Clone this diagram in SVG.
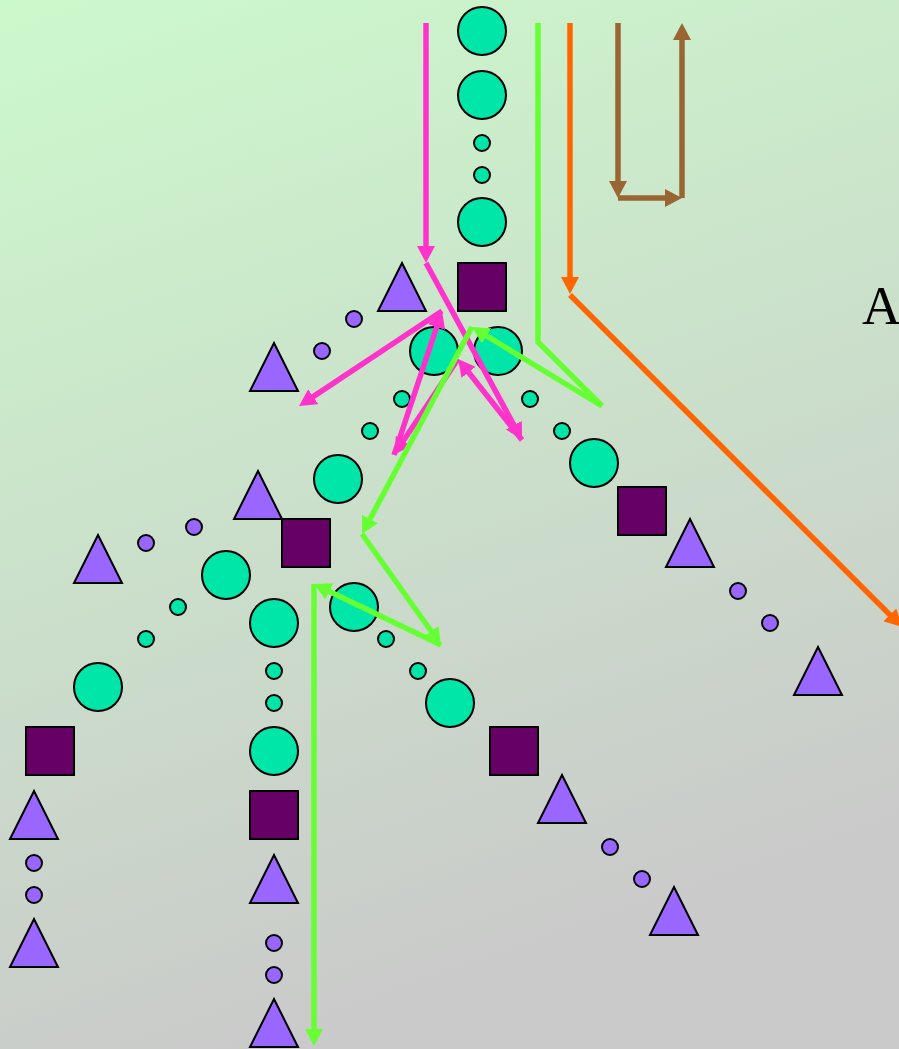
<svg xmlns="http://www.w3.org/2000/svg" width="899" height="1049" viewBox="0 0 899 1049">
<defs>
<linearGradient id="bg" x1="0" y1="0" x2="0.3" y2="1">
<stop offset="0" stop-color="#CCF9CC"/>
<stop offset="1" stop-color="#CACACA"/>
</linearGradient>
<marker id="mPink" markerUnits="userSpaceOnUse" viewBox="0 0 17 18" markerWidth="17" markerHeight="18" refX="9" refY="9" orient="auto"><path d="M0,0 L17,9 L0,18 z" fill="#FF33CC"/></marker>
<marker id="mGreen" markerUnits="userSpaceOnUse" viewBox="0 0 17 18" markerWidth="17" markerHeight="18" refX="9" refY="9" orient="auto"><path d="M0,0 L17,9 L0,18 z" fill="#66FF33"/></marker>
<marker id="mOrange" markerUnits="userSpaceOnUse" viewBox="0 0 17 18" markerWidth="17" markerHeight="18" refX="9" refY="9" orient="auto"><path d="M0,0 L17,9 L0,18 z" fill="#FF6600"/></marker>
<marker id="mBrown" markerUnits="userSpaceOnUse" viewBox="0 0 17 18" markerWidth="17" markerHeight="18" refX="9" refY="9" orient="auto"><path d="M0,0 L17,9 L0,18 z" fill="#996633"/></marker>
</defs>
<style>
.big{fill:#00E5A8;stroke:#000;stroke-width:2}
.sm{fill:#00E5A8;stroke:#000;stroke-width:2}
.pu{fill:#9966FF;stroke:#000;stroke-width:2}
.sq{fill:#660066;stroke:#000;stroke-width:2}
.tri{fill:#9966FF;stroke:#000;stroke-width:2}
.c{fill:none;stroke-width:5.5}
.pk{stroke:#FF33CC;marker-end:url(#mPink)}
.gr{stroke:#66FF33}
.ga{marker-end:url(#mGreen)}
.or{stroke:#FF6600}
.oa{marker-end:url(#mOrange)}
.br{stroke:#996633;marker-end:url(#mBrown)}
.lbl{font-family:"Liberation Serif","Times New Roman",serif;font-size:54px;fill:#000}
</style>
<rect width="899" height="1049" fill="url(#bg)"/>
<g id="nodes">
<g id="n1"><circle class="big" cx="482" cy="31" r="24"/></g>
<g id="n2"><circle class="big" cx="482" cy="95" r="24"/></g>
<g id="n3"><circle class="sm" cx="482" cy="143" r="8"/></g>
<g id="n4"><circle class="sm" cx="482" cy="175" r="8"/></g>
<g id="n5"><circle class="big" cx="482" cy="222" r="24"/></g>
<g id="n6"><rect class="sq" x="458" y="263" width="48" height="48"/></g>
<g id="n7"><polygon class="tri" points="402,263 426,311 378,311"/></g>
<g id="n8"><circle class="pu" cx="354" cy="319" r="8"/></g>
<g id="n9"><circle class="pu" cx="322" cy="351" r="8"/></g>
<g id="n10"><polygon class="tri" points="274,343 298,391 250,391"/></g>
<g id="n11"><circle class="big" cx="434" cy="351" r="24"/></g>
<g id="n12"><circle class="big" cx="498" cy="351" r="24"/></g>
<g id="n13"><circle class="sm" cx="402" cy="399" r="8"/></g>
<g id="n14"><circle class="sm" cx="370" cy="431" r="8"/></g>
<g id="n15"><circle class="sm" cx="530" cy="399" r="8"/></g>
<g id="n16"><circle class="sm" cx="562" cy="431" r="8"/></g>
<g id="n17"><circle class="big" cx="338" cy="479" r="24"/></g>
<g id="n18"><circle class="big" cx="594" cy="463" r="24"/></g>
<g id="n19"><rect class="sq" x="618" y="487" width="48" height="48"/></g>
<g id="n20"><polygon class="tri" points="690,519 714,567 666,567"/></g>
<g id="n21"><circle class="pu" cx="738" cy="591" r="8"/></g>
<g id="n22"><circle class="pu" cx="770" cy="623" r="8"/></g>
<g id="n23"><polygon class="tri" points="818,647 842,695 794,695"/></g>
<g id="n24"><polygon class="tri" points="258,471 282,519 234,519"/></g>
<g id="n25"><rect class="sq" x="282" y="519" width="48" height="48"/></g>
<g id="n26"><circle class="pu" cx="194" cy="527" r="8"/></g>
<g id="n27"><circle class="pu" cx="146" cy="543" r="8"/></g>
<g id="n28"><polygon class="tri" points="98,535 122,583 74,583"/></g>
<g id="n29"><circle class="big" cx="226" cy="575" r="24"/></g>
<g id="n30"><circle class="big" cx="274" cy="623" r="24"/></g>
<g id="n31"><circle class="big" cx="354" cy="607" r="24"/></g>
<g id="n32"><circle class="sm" cx="178" cy="607" r="8"/></g>
<g id="n33"><circle class="sm" cx="146" cy="639" r="8"/></g>
<g id="n34"><circle class="sm" cx="386" cy="639" r="8"/></g>
<g id="n35"><circle class="sm" cx="418" cy="671" r="8"/></g>
<g id="n36"><circle class="sm" cx="274" cy="671" r="8"/></g>
<g id="n37"><circle class="sm" cx="274" cy="703" r="8"/></g>
<g id="n38"><circle class="big" cx="98" cy="687" r="24"/></g>
<g id="n39"><circle class="big" cx="450" cy="703" r="24"/></g>
<g id="n40"><circle class="big" cx="274" cy="751" r="24"/></g>
<g id="n41"><rect class="sq" x="26" y="727" width="48" height="48"/></g>
<g id="n42"><rect class="sq" x="490" y="727" width="48" height="48"/></g>
<g id="n43"><rect class="sq" x="250" y="791" width="48" height="48"/></g>
<g id="n44"><polygon class="tri" points="34,791 58,839 10,839"/></g>
<g id="n45"><circle class="pu" cx="34" cy="863" r="8"/></g>
<g id="n46"><circle class="pu" cx="34" cy="895" r="8"/></g>
<g id="n47"><polygon class="tri" points="34,919 58,967 10,967"/></g>
<g id="n48"><polygon class="tri" points="562,775 586,823 538,823"/></g>
<g id="n49"><circle class="pu" cx="610" cy="847" r="8"/></g>
<g id="n50"><circle class="pu" cx="642" cy="879" r="8"/></g>
<g id="n51"><polygon class="tri" points="674,887 698,935 650,935"/></g>
<g id="n52"><polygon class="tri" points="274,855 298,903 250,903"/></g>
<g id="n53"><circle class="pu" cx="274" cy="943" r="8"/></g>
<g id="n54"><circle class="pu" cx="274" cy="975" r="8"/></g>
<g id="n55"><polygon class="tri" points="274,999 298,1047 250,1047"/></g>
</g>
<g id="connectors">
<line class="c pk" x1="426" y1="23" x2="426" y2="255"/>
<line class="c pk" x1="426" y1="263" x2="518.2" y2="433"/>
<line class="c pk" x1="522" y1="440" x2="463" y2="365.3"/>
<line class="c pk" x1="458" y1="359" x2="398.4" y2="448.3"/>
<line class="c pk" x1="394" y1="455" x2="439.5" y2="318.6"/>
<line class="c pk" x1="442" y1="311" x2="305.7" y2="401.6"/>
<polyline class="c gr" points="538,23 538,342 602,406"/>
<line class="c gr ga" x1="602" y1="406" x2="478.8" y2="331.2"/>
<line class="c gr ga" x1="472" y1="327" x2="365.8" y2="526.9"/>
<line class="c gr ga" x1="362" y1="534" x2="436.4" y2="638.5"/>
<line class="c gr ga" x1="441" y1="645" x2="321.2" y2="587.5"/>
<line class="c gr ga" x1="314" y1="584" x2="314" y2="1038"/>
<line class="c or oa" x1="570" y1="23" x2="570" y2="286"/>
<line class="c or oa" x1="570" y1="295" x2="896.3" y2="621.3"/>
<line class="c br" x1="618" y1="23" x2="618" y2="190"/>
<line class="c br" x1="618" y1="198" x2="674" y2="198"/>
<line class="c br" x1="682" y1="198" x2="682" y2="31"/>
</g>
<text class="lbl" x="862" y="324">A</text>
</svg>
